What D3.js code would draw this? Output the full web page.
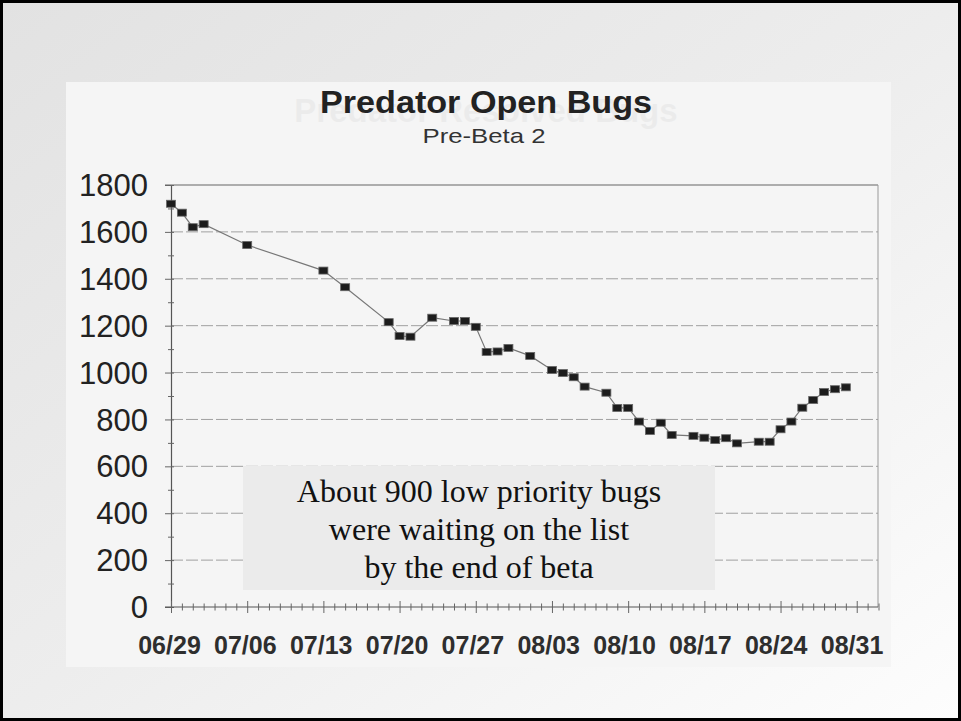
<!DOCTYPE html>
<html>
<head>
<meta charset="utf-8">
<script src="https://cdn.jsdelivr.net/npm/d3@7"></script>
<style>
  html, body { margin: 0; padding: 0; background: #fff; }
  svg { display: block; }
</style>
</head>
<body>
<script>
// Open bug count, sampled on working days
const dates = ["06/29","06/30","07/01","07/02","07/06","07/13","07/15","07/19","07/20","07/21",
  "07/23","07/25","07/26","07/27","07/28","07/29","07/30","08/01","08/03","08/04",
  "08/05","08/06","08/08","08/09","08/10","08/11","08/12","08/13","08/14","08/16",
  "08/17","08/18","08/19","08/20","08/22","08/23","08/24","08/25","08/26","08/27",
  "08/28","08/29","08/30"];
const openBugs = [1720,1682,1620,1633,1544,1435,1364,1215,1156,1153,
  1234,1220,1220,1195,1088,1090,1105,1071,1011,998,
  980,940,914,849,849,791,751,786,734,730,
  722,712,720,698,705,705,758,791,850,883,
  917,929,937];
const weekLabels = ["06/29","07/06","07/13","07/20","07/27","08/03","08/10","08/17","08/24","08/31"];
const yTicks = [0,200,400,600,800,1000,1200,1400,1600,1800];
const title = "Predator Open Bugs";
const subtitle = "Pre-Beta 2";
const ghostTitle = "Predator Resolved Bugs";
const noteLines = ["About 900 low priority bugs", "were waiting on the list", "by the end of beta"];

const W = 961, H = 721;
const SANS = "Liberation Sans, Arial, sans-serif";
const parse = d3.timeParse("%m/%d");
const data = dates.map((d, i) => ({ date: parse(d), value: openBugs[i] }));

const svg = d3.select("body").append("svg").attr("width", W).attr("height", H);
const defs = svg.append("defs");
const grad = defs.append("linearGradient").attr("id", "slideBg")
  .attr("x1", "0").attr("y1", "0").attr("x2", "1").attr("y2", "1");
grad.append("stop").attr("offset", "0").attr("stop-color", "#e2e2e2");
grad.append("stop").attr("offset", "0.5").attr("stop-color", "#ededed");
grad.append("stop").attr("offset", "1").attr("stop-color", "#fdfdfd");

// slide
svg.append("rect").attr("x", 1.5).attr("y", 1.5).attr("width", W - 3).attr("height", H - 3)
  .attr("fill", "url(#slideBg)").attr("stroke", "#000").attr("stroke-width", 3);

// chart card
svg.append("rect").attr("x", 66).attr("y", 82).attr("width", 825).attr("height", 585)
  .attr("fill", "#f5f5f5");

// faint show-through from the reverse side of the sheet
svg.append("text").attr("x", 486).attr("y", 122).attr("text-anchor", "middle")
  .attr("font-family", SANS).attr("font-weight", "bold")
  .attr("font-size", 33).attr("fill", "#000").attr("opacity", 0.035).text(ghostTitle);

// titles
svg.append("text").attr("x", 486).attr("y", 113).attr("text-anchor", "middle")
  .attr("font-family", SANS).attr("font-weight", "bold")
  .attr("font-size", 31).attr("textLength", 332).attr("lengthAdjust", "spacingAndGlyphs")
  .attr("fill", "#222").text(title);
svg.append("text").attr("x", 484).attr("y", 143).attr("text-anchor", "middle")
  .attr("font-family", SANS)
  .attr("font-size", 21).attr("textLength", 123).attr("lengthAdjust", "spacingAndGlyphs")
  .attr("fill", "#333").text(subtitle);

// scales
const x = d3.scaleTime().domain([parse("06/29"), parse("09/02")]).range([171, 878.5]);
const y = d3.scaleLinear().domain([0, 1800]).range([607, 185]);

const plot = svg.append("g");

// dashed gridlines
plot.append("g").selectAll("line").data(yTicks.filter(v => v > 0 && v < 1800)).join("line")
  .attr("x1", 171).attr("x2", 878).attr("y1", d => y(d)).attr("y2", d => y(d))
  .attr("stroke", "#a0a0a0").attr("stroke-width", 1).attr("stroke-dasharray", "12,3");

// frame: top and right edges
plot.append("line").attr("x1", 165).attr("x2", 878).attr("y1", y(1800)).attr("y2", y(1800))
  .attr("stroke", "#666").attr("stroke-width", 1.2);
plot.append("line").attr("x1", 878).attr("x2", 878).attr("y1", y(1800)).attr("y2", y(0))
  .attr("stroke", "#999").attr("stroke-width", 1);

// y axis
const yAxis = d3.axisLeft(y).tickValues(d3.range(0, 1801, 100)).tickSize(0).tickFormat("");
const gy = plot.append("g").attr("transform", "translate(171,0)").call(yAxis);
gy.select(".domain").attr("stroke", "#555").attr("stroke-width", 1.2);
gy.selectAll(".tick line").remove();
gy.selectAll(".tick").append("line")
  .attr("x1", d => d % 200 === 0 ? -6 : -3).attr("x2", 3)
  .attr("stroke", "#666").attr("stroke-width", 1);
plot.append("g").selectAll("text").data(yTicks).join("text")
  .attr("x", 148).attr("y", d => y(d)).attr("dy", "0.36em").attr("text-anchor", "end")
  .attr("font-family", SANS).attr("font-size", 31)
  .attr("fill", "#222").text(d => d);

// x axis with daily minor and weekly major ticks
const xAxis = d3.axisBottom(x).ticks(d3.timeDay.every(1)).tickSize(0).tickFormat("");
const gx = plot.append("g").attr("transform", `translate(0,${y(0)})`).call(xAxis);
gx.select(".domain").attr("stroke", "#555").attr("stroke-width", 1.2)
  .attr("d", `M165,0H878`);
gx.selectAll(".tick line").remove();
const start = parse("06/29");
gx.selectAll(".tick").append("line")
  .attr("y1", d => d3.timeDay.count(start, d) % 7 === 0 ? -6 : -3.5)
  .attr("y2", d => d3.timeDay.count(start, d) % 7 === 0 ? 6 : 3.5)
  .attr("stroke", "#666").attr("stroke-width", 1);

// week labels
plot.append("g").attr("font-family", SANS)
  .attr("font-weight", "bold").attr("font-size", 25).attr("text-anchor", "middle")
  .selectAll("text").data(weekLabels).join("text")
  .attr("x", (d, i) => x(parse(d)) - 1.5 - i * 0.35).attr("y", 654)
  .attr("fill", "#2e2e2e").text(d => d);

// series line and markers
const line = d3.line().x(d => x(d.date)).y(d => y(d.value));
plot.append("path").datum(data).attr("d", line)
  .attr("fill", "none").attr("stroke", "#777").attr("stroke-width", 1.2);
plot.append("g").selectAll("rect").data(data).join("rect")
  .attr("x", d => x(d.date) - 4.5).attr("y", d => y(d.value) - 3.5)
  .attr("width", 9).attr("height", 7)
  .attr("fill", "#1c1c1c").attr("stroke", "#666").attr("stroke-width", 0.8);

// annotation box
svg.append("rect").attr("x", 243).attr("y", 466).attr("width", 472).attr("height", 124)
  .attr("fill", "#ebebeb");
svg.append("g").selectAll("text").data(noteLines).join("text")
  .attr("x", 479).attr("y", (d, i) => 502 + i * 38).attr("text-anchor", "middle")
  .attr("font-family", "Liberation Serif, Times New Roman, serif").attr("font-size", 32)
  .attr("fill", "#111").text(d => d);
</script>
</body>
</html>
